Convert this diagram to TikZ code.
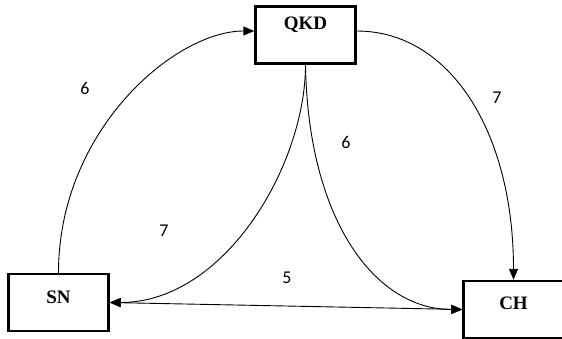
\documentclass[tikz,border=0pt]{standalone}
\usepackage{fontspec}
\setmainfont{Liberation Serif}
\newfontfamily\numfont{Carlito}
\usetikzlibrary{arrows.meta}

\tikzset{
  entity/.style={draw=black, line width=2.4pt, minimum width=100pt, minimum height=57pt, inner sep=0pt},
  entitytext/.style={font=\fontsize{19}{21}\selectfont\bfseries, inner sep=0pt},
  flow/.style={line width=0.9pt, -{Triangle[length=11pt,width=9pt]}},
  both/.style={line width=0.9pt, {Triangle[length=11pt,width=9pt]}-{Triangle[length=11pt,width=9pt]}},
  weight/.style={font=\numfont\fontsize{18}{20}\selectfont, inner sep=0pt}
}

\begin{document}
\begin{tikzpicture}[x=1pt, y=-1pt]
  \useasboundingbox (0,0) rectangle (562,338);

  % the three parties
  \node[entity] (qkd) at (305.5,35) {};
  \node[entity] (sn)  at (58.5,302.5) {};
  \node[entity] (ch)  at (513.5,309.5) {};

  \node[entitytext] (qkdname) at ([yshift=10pt]qkd.center) {QKD};
  \node[entitytext] (snname)  at ([yshift=5pt]sn.center) {SN};
  \node[entitytext] (chname)  at ([yshift=6pt]ch.center) {CH};

  % message flows
  \draw[flow] (sn.north) .. controls (58.5,130) and (175,31) .. ([yshift=4pt]qkd.west);
  \draw[flow] ([yshift=4pt]qkd.east) .. controls (450,31) and (513.5,132) .. (ch.north);
  \draw[flow] (qkd.south) .. controls (305.5,165) and (225,302.5) .. (sn.east);
  \draw[flow] (qkd.south) .. controls (308,220) and (375,309.5) .. (ch.west);
  \draw[both] (sn.east) -- (ch.west);

  % flow counts
  \node[weight] (w1) at (85,88)   {6};
  \node[weight] (w2) at (497,98)  {7};
  \node[weight] (w3) at (346,142) {6};
  \node[weight] (w4) at (164,231) {7};
  \node[weight] (w5) at (287,278) {5};
\end{tikzpicture}
\end{document}
